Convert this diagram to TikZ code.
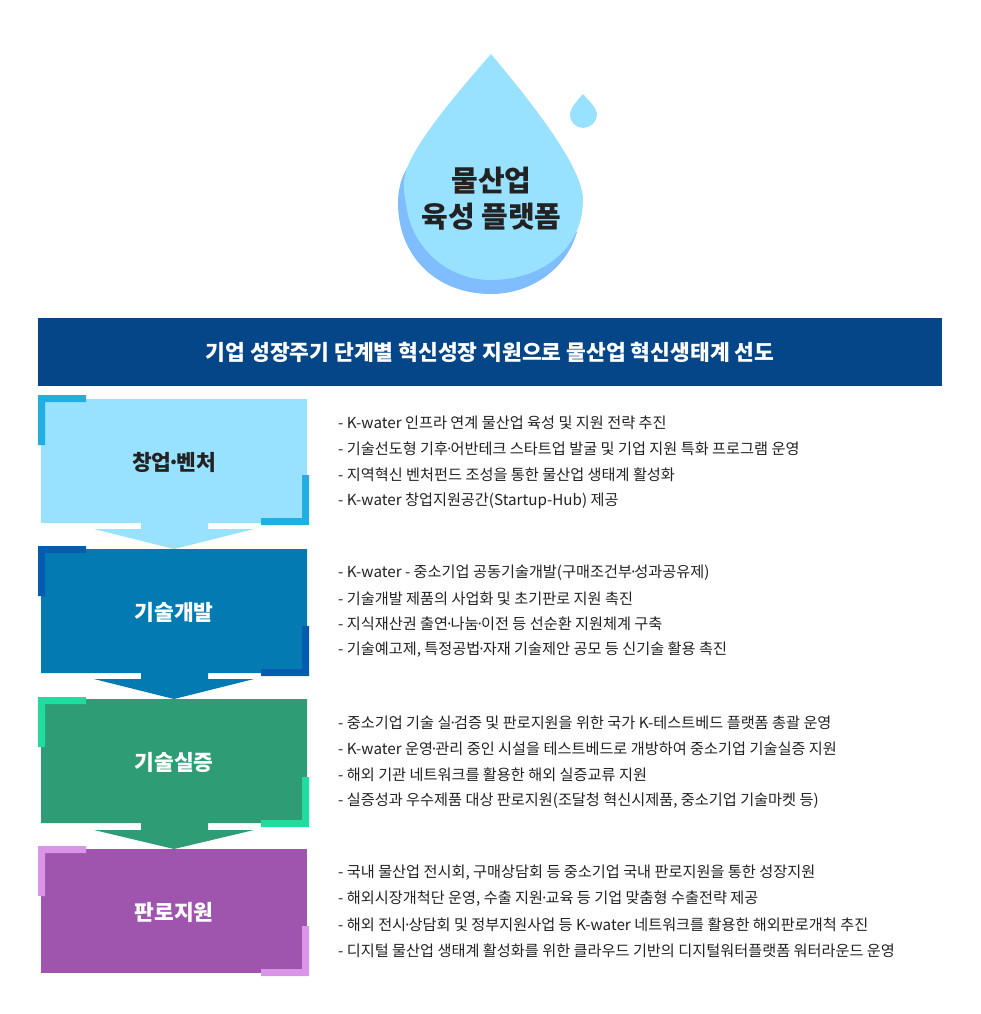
\documentclass[tikz,border=0pt]{standalone}
\usepackage{fontspec}
\setmainfont{Noto Sans CJK KR}
\definecolor{drop}{HTML}{99E2FF}
\definecolor{dropshade}{HTML}{80BDFF}
\definecolor{band}{HTML}{044687}
\definecolor{textc}{HTML}{222222}
\definecolor{boxa}{HTML}{99E2FF}\definecolor{cora}{HTML}{20AEE3}
\definecolor{boxb}{HTML}{047AB3}\definecolor{corb}{HTML}{045CB0}
\definecolor{boxc}{HTML}{2E9C74}\definecolor{corc}{HTML}{20DC9E}
\definecolor{boxd}{HTML}{9F55AE}\definecolor{cord}{HTML}{DA94E8}
\newcommand{\dt}{{\kern-.2em·\kern-.2em}}
\tikzset{
 x=1pt,y=-1pt,
 title/.style={font=\fontsize{29}{36}\selectfont\bfseries,text=textc,align=center,inner sep=0pt},
 bandtext/.style={font=\fontsize{21.5}{26}\selectfont\bfseries,text=white,inner sep=0pt},
 stage/.style={font=\fontsize{21.5}{26}\selectfont\bfseries,inner sep=0pt},
 item/.style={font=\fontsize{15.2}{26}\selectfont,text=textc,anchor=west,inner sep=0pt},
}
\newcommand{\stagebox}[3]{% top y, fill, head top offset
 \fill[#2] (41,#1) -- (307,#1) -- (307,#1+124) -- (208,#1+124) -- (208,#1+#3) -- (254,#1+#3) -- (174,#1+150) -- (94,#1+#3) -- (141,#1+#3) -- (141,#1+124) -- (41,#1+124) -- cycle;
}
\newcommand{\corners}[3]{% top of TL corner, bottom of BR corner, colour
 \fill[#3] (38,#1) -- (86,#1) -- (86,#1+7) -- (45,#1+7) -- (45,#1+50) -- (38,#1+50) -- cycle;
 \fill[#3] (309,#2) -- (261,#2) -- (261,#2-7) -- (302,#2-7) -- (302,#2-50) -- (309,#2-50) -- cycle;
}
\begin{document}
\begin{tikzpicture}
\useasboundingbox (0,0) rectangle (980,1014);
% big drop
\fill[dropshade] (407,168) .. controls (400,180) and (398,192) .. (398,203) .. controls (398,256) and (436,294) .. (491,294) .. controls (530,294) and (566,270) .. (577,232) -- cycle;
\fill[drop] (491,54) .. controls (465,84) and (420,135) .. (407,168) .. controls (403,180) and (403,190) .. (406,203) .. controls (410,245) and (445,280) .. (491,280) .. controls (540,280) and (583,250) .. (583,200) .. controls (583,165) and (525,95) .. (491,54) -- cycle;
% small drop
\fill[drop] (583,94) .. controls (577,101) and (570,108) .. (570,115) .. controls (570,122) and (576,128) .. (583,128) .. controls (590,128) and (597,122) .. (597,115) .. controls (597,108) and (589,101) .. (583,94) -- cycle;
\node[title] (t) at (491.5,199) {물산업\\육성 플랫폼};
% band
\fill[band] (38,318) rectangle (942,386);
\node[bandtext] (b) at (490,352) {기업 성장주기 단계별 혁신성장 지원으로 물산업 혁신생태계 선도};
% stages
\stagebox{549}{boxb}{130}
\stagebox{399}{boxa}{130}
\stagebox{699}{boxc}{131}
\fill[boxd] (41,849) rectangle (307,973);
\corners{395}{525}{cora}
\corners{546}{676}{corb}
\corners{697}{827}{corc}
\corners{846}{976}{cord}
\node[stage,text=textc] (s1) at (174,462) {창업\dt 벤처};
\node[stage,text=white] (s2) at (174,612) {기술개발};
\node[stage,text=white] (s3) at (174,762) {기술실증};
\node[stage,text=white] (s4) at (174,912) {판로지원};
% items
\node[item] (a1) at (338,422.5) {- K-water 인프라 연계 물산업 육성 및 지원 전략 추진};
\node[item] (a2) at (338,448.5) {- 기술선도형 기후\dt 어반테크 스타트업 발굴 및 기업 지원 특화 프로그램 운영};
\node[item] (a3) at (338,474.5) {- 지역혁신 벤처펀드 조성을 통한 물산업 생태계 활성화};
\node[item] (a4) at (338,500.5) {- K-water 창업지원공간(Startup-Hub) 제공};
\node[item] (b1) at (338,572.5) {- K-water - 중소기업 공동기술개발(구매조건부\dt 성과공유제)};
\node[item] (b2) at (338,598.5) {- 기술개발 제품의 사업화 및 초기판로 지원 촉진};
\node[item] (b3) at (338,623.5) {- 지식재산권 출연\dt 나눔\dt 이전 등 선순환 지원체계 구축};
\node[item] (b4) at (338,649.5) {- 기술예고제, 특정공법\dt 자재 기술제안 공모 등 신기술 활용 촉진};
\node[item] (c1) at (338,722.5) {- 중소기업 기술 실\dt 검증 및 판로지원을 위한 국가 K-테스트베드 플랫폼 총괄 운영};
\node[item] (c2) at (338,748.5) {- K-water 운영\dt 관리 중인 시설을 테스트베드로 개방하여 중소기업 기술실증 지원};
\node[item] (c3) at (338,774.5) {- 해외 기관 네트워크를 활용한 해외 실증교류 지원};
\node[item] (c4) at (338,800.5) {- 실증성과 우수제품 대상 판로지원(조달청 혁신시제품, 중소기업 기술마켓 등)};
\node[item] (d1) at (338,872.5) {- 국내 물산업 전시회, 구매상담회 등 중소기업 국내 판로지원을 통한 성장지원};
\node[item] (d2) at (338,898.5) {- 해외시장개척단 운영, 수출 지원\dt 교육 등 기업 맞춤형 수출전략 제공};
\node[item] (d3) at (338,924.5) {- 해외 전시\dt 상담회 및 정부지원사업 등 K-water 네트워크를 활용한 해외판로개척 추진};
\node[item] (d4) at (338,950.5) {- 디지털 물산업 생태계 활성화를 위한 클라우드 기반의 디지털워터플랫폼 워터라운드 운영};
\end{tikzpicture}
\end{document}
